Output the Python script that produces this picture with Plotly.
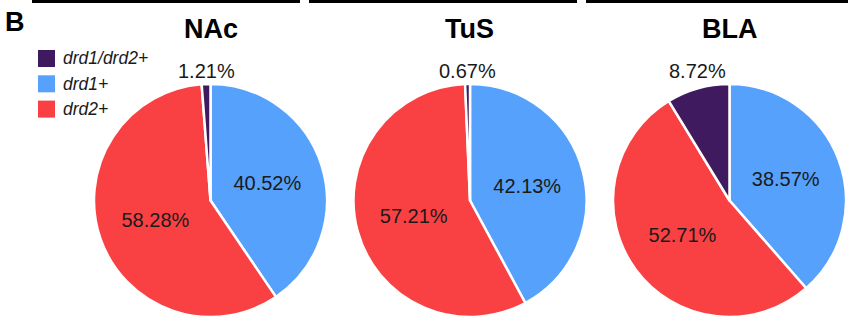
import math
import plotly.graph_objects as go

regions = ["NAc", "TuS", "BLA"]
categories = ["drd1+", "drd2+", "drd1/drd2+"]
legend_order = ["drd1/drd2+", "drd1+", "drd2+"]
nac_values = [40.52, 58.28, 1.21]
tus_values = [42.13, 57.21, 0.67]
bla_values = [38.57, 52.71, 8.72]
series = [nac_values, tus_values, bla_values]
colors = {"drd1+": "#55A1FB", "drd2+": "#F94144", "drd1/drd2+": "#3F1A5F"}

W, H = 848, 317
centers_x = [210.5, 470.0, 729.5]
radius = 116.5
FONT = "Liberation Sans, Arial, sans-serif"

fig = go.Figure()
for name, vals, cx in zip(regions, series, centers_x):
    fig.add_trace(go.Pie(
        labels=categories,
        values=vals,
        sort=False,
        direction="clockwise",
        rotation=0,
        marker=dict(colors=[colors[c] for c in categories],
                    line=dict(color="white", width=2.5)),
        texttemplate=["%{value:.2f}%", "%{value:.2f}%", ""],
        textposition="inside",
        insidetextorientation="horizontal",
        insidetextfont=dict(family=FONT, size=20, color="#1a1a1a"),
        domain=dict(x=[(cx - radius) / W, (cx + radius) / W], y=[0, 2 * radius / H]),
        hoverinfo="label+value",
        showlegend=False,
        name=name,
    ))
    fig.add_annotation(text=f"<b>{name}</b>", x=cx / W, y=1 - 29 / H, xref="paper", yref="paper",
                       showarrow=False, xanchor="center", yanchor="middle",
                       font=dict(family=FONT, size=27, color="black"))
    # small slice label placed above the pie at its mid angle
    small = vals[2]
    total = sum(vals)
    mid = 2 * math.pi * (1 - small / total / 2)
    lx = cx + radius * math.sin(mid)
    fig.add_annotation(text=f"{small:.2f}%", x=lx / W, y=1 - 71 / H, xref="paper", yref="paper",
                       showarrow=False, xanchor="center", yanchor="middle",
                       font=dict(family=FONT, size=20, color="#1a1a1a"))

# panel letter
fig.add_annotation(text="<b>B</b>", x=3 / W, y=1 - 21.5 / H, xref="paper", yref="paper",
                   showarrow=False, xanchor="left", yanchor="middle",
                   font=dict(family=FONT, size=27, color="black"))

# manual legend
for i, cat in enumerate(legend_order):
    yc = 58.5 + 25.3 * i
    fig.add_shape(type="rect", xref="paper", yref="paper",
                  x0=38 / W, x1=55 / W, y0=1 - (yc + 8.5) / H, y1=1 - (yc - 8.5) / H,
                  fillcolor=colors[cat], line=dict(width=0))
    fig.add_annotation(text=f"<i>{cat}</i>", x=61 / W, y=1 - yc / H, xref="paper", yref="paper",
                       showarrow=False, xanchor="left", yanchor="middle",
                       font=dict(family=FONT, size=17.5, color="#1a1a1a"))

# top border segments from the panel above
for x0, x1 in [(32, 300), (309, 577), (586, 848)]:
    fig.add_shape(type="rect", xref="paper", yref="paper",
                  x0=x0 / W, x1=x1 / W, y0=1 - 3 / H, y1=1,
                  fillcolor="black", line=dict(width=0))

fig.update_layout(width=W, height=H, margin=dict(l=0, r=0, t=0, b=0),
                  paper_bgcolor="white", plot_bgcolor="white")
fig.write_html("out.html",
               config={"displayModeBar": False},
               post_script="document.body.style.margin='0';document.body.style.overflow='hidden';")
